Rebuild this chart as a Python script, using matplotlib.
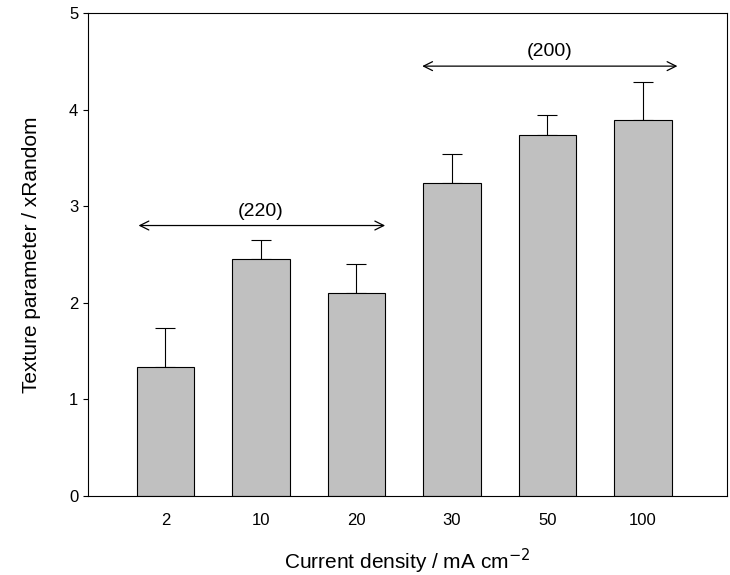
import matplotlib
matplotlib.use("Agg")
import matplotlib.pyplot as plt

plt.rcParams['font.family'] = ['Liberation Sans', 'DejaVu Sans']

# data
densities = ["2", "10", "20", "30", "50", "100"]
texture = [1.34, 2.45, 2.10, 3.24, 3.74, 3.89]
err_up = [0.40, 0.20, 0.30, 0.30, 0.20, 0.40]

fig = plt.figure(figsize=(7.30, 5.75), dpi=100)
ax = fig.add_axes([88/730, 1 - 496/575, (727-88)/730, (496-13)/575])

x = list(range(len(densities)))
ax.bar(x, texture, width=0.6, color="#c0c0c0", edgecolor="black", linewidth=0.8, zorder=2)
ax.errorbar(x, texture, yerr=[[0]*len(x), err_up], fmt="none", ecolor="black",
            elinewidth=0.8, capsize=7, capthick=0.8, zorder=1)

# group arrows
ax.annotate("", xy=(-0.31, 2.8), xytext=(2.33, 2.8),
            arrowprops=dict(arrowstyle="<->", lw=0.9, color="black", mutation_scale=16))
ax.text(1.0, 2.86, "(220)", ha="center", va="bottom", fontsize=14)
ax.annotate("", xy=(2.66, 4.45), xytext=(5.39, 4.45),
            arrowprops=dict(arrowstyle="<->", lw=0.9, color="black", mutation_scale=16))
ax.text(4.02, 4.51, "(200)", ha="center", va="bottom", fontsize=14)

ax.set_xlim(-0.81, 5.88)
ax.set_ylim(0, 5)
ax.set_xticks(x)
ax.set_xticklabels(densities)
ax.tick_params(axis="x", length=0, labelsize=12, pad=12)
ax.tick_params(axis="y", direction="out", labelsize=12)
ax.set_xlabel("Current density / mA cm$^{-2}$", fontsize=15, labelpad=14)
ax.set_ylabel("Texture parameter / xRandom", fontsize=15, labelpad=20)
for s in ax.spines.values():
    s.set_linewidth(0.8)

fig.savefig("out.png", dpi=100)
